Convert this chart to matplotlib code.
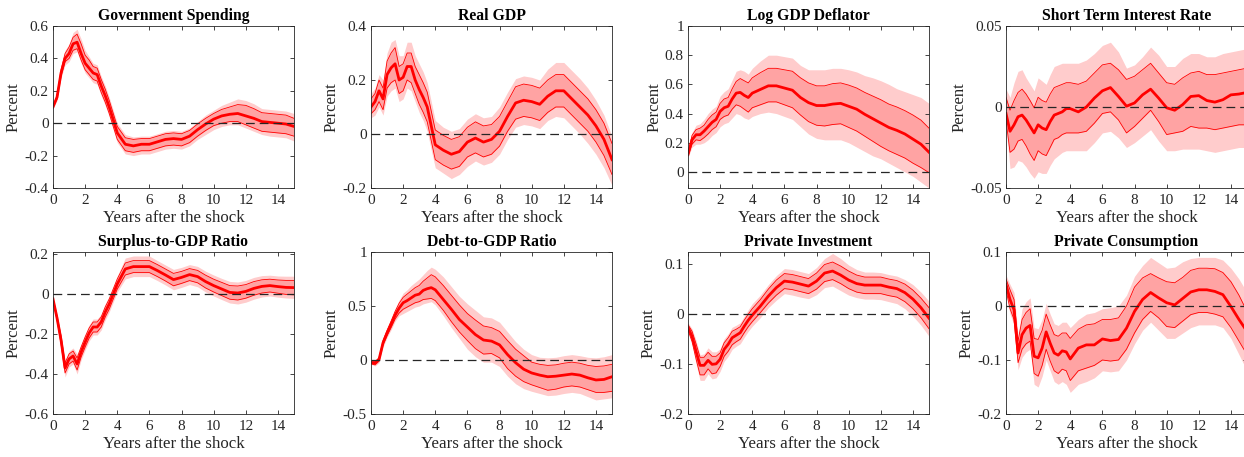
import matplotlib
matplotlib.use('Agg')
import matplotlib.pyplot as plt

plt.rcParams['font.family'] = ['Liberation Serif', 'DejaVu Serif']

# horizon (years): quarterly up to 4, then half-yearly
years = [0, .25, .5, .75, 1, 1.25, 1.5, 1.75, 2, 2.25, 2.5, 2.75, 3, 3.25, 3.5, 3.75, 4,
         4.5, 5, 5.5, 6, 6.5, 7, 7.5, 8, 8.5, 9, 9.5, 10, 10.5, 11, 11.5, 12, 12.5, 13,
         13.5, 14, 14.5, 15]

# Government Spending
gov_med = [0.10, 0.16, 0.31, 0.40, 0.43, 0.49, 0.50, 0.43, 0.37, 0.34, 0.31, 0.30, 0.23, 0.17, 0.10, 0.02, -0.06,
           -0.13, -0.14, -0.13, -0.13, -0.115, -0.10, -0.095, -0.10, -0.08, -0.04, -0.005, 0.025, 0.045, 0.055,
           0.06, 0.045, 0.03, 0.01, 0.005, 0.0, -0.005, -0.02]
gov_hi68 = [0.10, 0.17, 0.33, 0.43, 0.47, 0.53, 0.55, 0.49, 0.42, 0.39, 0.35, 0.34, 0.27, 0.21, 0.14, 0.06, -0.02,
            -0.09, -0.10, -0.095, -0.095, -0.08, -0.065, -0.06, -0.065, -0.045, -0.005, 0.03, 0.06, 0.085, 0.10,
            0.115, 0.11, 0.09, 0.065, 0.06, 0.055, 0.05, 0.03]
gov_lo68 = [0.10, 0.15, 0.29, 0.38, 0.40, 0.45, 0.46, 0.39, 0.33, 0.30, 0.27, 0.26, 0.19, 0.13, 0.06, -0.02, -0.10,
            -0.17, -0.18, -0.17, -0.17, -0.155, -0.14, -0.135, -0.14, -0.12, -0.08, -0.045, -0.015, 0.0, 0.01,
            0.01, -0.01, -0.03, -0.05, -0.055, -0.06, -0.065, -0.08]
gov_hi90 = [0.11, 0.18, 0.34, 0.45, 0.49, 0.56, 0.58, 0.52, 0.45, 0.41, 0.37, 0.36, 0.29, 0.23, 0.16, 0.08, 0.0,
            -0.07, -0.085, -0.08, -0.08, -0.065, -0.05, -0.045, -0.05, -0.03, 0.01, 0.05, 0.08, 0.11, 0.13,
            0.15, 0.14, 0.12, 0.09, 0.085, 0.08, 0.075, 0.06]
gov_lo90 = [0.09, 0.14, 0.28, 0.36, 0.38, 0.43, 0.44, 0.37, 0.31, 0.28, 0.25, 0.24, 0.17, 0.11, 0.04, -0.04, -0.12,
            -0.19, -0.20, -0.19, -0.19, -0.175, -0.16, -0.155, -0.16, -0.14, -0.10, -0.07, -0.04, -0.02, -0.01,
            -0.01, -0.03, -0.05, -0.07, -0.08, -0.085, -0.09, -0.11]

# Real GDP
gdp_med = [0.10, 0.12, 0.16, 0.13, 0.22, 0.245, 0.26, 0.20, 0.21, 0.25, 0.25, 0.20, 0.165, 0.135, 0.10, 0.03, -0.04,
           -0.06, -0.075, -0.065, -0.03, -0.015, -0.03, -0.02, 0.01, 0.065, 0.115, 0.125, 0.12, 0.11, 0.14,
           0.16, 0.16, 0.13, 0.10, 0.07, 0.03, -0.02, -0.095]
gdp_hi68 = [0.13, 0.15, 0.20, 0.17, 0.27, 0.30, 0.32, 0.25, 0.26, 0.30, 0.30, 0.25, 0.22, 0.19, 0.155, 0.085, 0.015,
            -0.005, -0.02, -0.01, 0.025, 0.045, 0.03, 0.035, 0.065, 0.12, 0.175, 0.185, 0.18, 0.17, 0.20,
            0.22, 0.22, 0.19, 0.16, 0.13, 0.09, 0.04, -0.035]
gdp_lo68 = [0.075, 0.09, 0.12, 0.09, 0.17, 0.19, 0.20, 0.15, 0.16, 0.20, 0.19, 0.15, 0.11, 0.08, 0.045, -0.025, -0.095,
            -0.115, -0.13, -0.12, -0.085, -0.07, -0.085, -0.075, -0.045, 0.01, 0.055, 0.065, 0.06, 0.05, 0.08,
            0.10, 0.10, 0.07, 0.04, 0.01, -0.03, -0.08, -0.15]
gdp_hi90 = [0.15, 0.17, 0.22, 0.20, 0.30, 0.34, 0.35, 0.29, 0.29, 0.34, 0.34, 0.29, 0.26, 0.23, 0.19, 0.12, 0.05,
            0.025, 0.01, 0.02, 0.055, 0.075, 0.06, 0.065, 0.10, 0.155, 0.205, 0.215, 0.21, 0.20, 0.24,
            0.265, 0.265, 0.235, 0.205, 0.17, 0.125, 0.07, -0.01]
gdp_lo90 = [0.06, 0.07, 0.10, 0.07, 0.14, 0.16, 0.17, 0.12, 0.13, 0.17, 0.16, 0.12, 0.08, 0.05, 0.01, -0.06, -0.125,
            -0.145, -0.165, -0.15, -0.12, -0.10, -0.115, -0.105, -0.075, -0.02, 0.025, 0.035, 0.03, 0.02, 0.05,
            0.065, 0.06, 0.03, 0.0, -0.035, -0.075, -0.125, -0.19]

# Log GDP Deflator
defl_med = [0.12, 0.22, 0.255, 0.255, 0.28, 0.31, 0.34, 0.36, 0.415, 0.44, 0.45, 0.50, 0.54, 0.545, 0.525, 0.51, 0.54,
            0.565, 0.59, 0.59, 0.575, 0.56, 0.51, 0.475, 0.455, 0.455, 0.465, 0.47, 0.45, 0.43, 0.395,
            0.365, 0.335, 0.305, 0.285, 0.26, 0.225, 0.19, 0.135]
defl_hi68 = [0.13, 0.25, 0.29, 0.30, 0.32, 0.36, 0.39, 0.41, 0.47, 0.50, 0.51, 0.57, 0.62, 0.64, 0.625, 0.61, 0.645,
             0.68, 0.71, 0.71, 0.70, 0.69, 0.645, 0.61, 0.59, 0.59, 0.605, 0.61, 0.595, 0.575, 0.545,
             0.52, 0.495, 0.465, 0.445, 0.42, 0.39, 0.355, 0.30]
defl_lo68 = [0.11, 0.19, 0.22, 0.215, 0.235, 0.26, 0.29, 0.31, 0.36, 0.38, 0.39, 0.43, 0.46, 0.45, 0.43, 0.41, 0.44,
             0.46, 0.48, 0.48, 0.46, 0.44, 0.39, 0.345, 0.32, 0.315, 0.325, 0.33, 0.305, 0.28, 0.245,
             0.21, 0.175, 0.145, 0.12, 0.095, 0.06, 0.03, -0.005]
defl_hi90 = [0.15, 0.27, 0.32, 0.33, 0.36, 0.40, 0.43, 0.45, 0.52, 0.55, 0.57, 0.63, 0.69, 0.70, 0.69, 0.67, 0.71,
             0.76, 0.80, 0.80, 0.79, 0.78, 0.73, 0.70, 0.70, 0.70, 0.71, 0.71, 0.70, 0.685, 0.66,
             0.645, 0.625, 0.60, 0.57, 0.55, 0.53, 0.51, 0.47]
defl_lo90 = [0.10, 0.17, 0.19, 0.19, 0.20, 0.22, 0.25, 0.27, 0.31, 0.33, 0.34, 0.37, 0.40, 0.39, 0.37, 0.36, 0.38,
             0.40, 0.41, 0.40, 0.38, 0.36, 0.31, 0.26, 0.23, 0.22, 0.22, 0.22, 0.20, 0.17, 0.14,
             0.11, 0.09, 0.06, 0.03, 0.0, -0.03, -0.07, -0.11]

# Short Term Interest Rate
rate_med = [-0.004, -0.015, -0.011, -0.006, -0.005, -0.008, -0.012, -0.016, -0.011, -0.013, -0.014, -0.009, -0.005,
            -0.004, -0.003, -0.001, -0.001, -0.003, 0.0, 0.0055, 0.010, 0.012, 0.0065, 0.0005, 0.0025, 0.0075,
            0.011, 0.0055, -0.0005, -0.002, 0.0015, 0.0065, 0.007, 0.004, 0.003, 0.0045, 0.0075, 0.008, 0.009]
rate_hi68 = [0.006, -0.002, 0.004, 0.009, 0.011, 0.008, 0.004, -0.0005, 0.006, 0.004, 0.003, 0.008, 0.012, 0.013,
             0.014, 0.015, 0.015, 0.014, 0.016, 0.021, 0.026, 0.027, 0.023, 0.017, 0.019, 0.023, 0.027, 0.021,
             0.015, 0.014, 0.018, 0.021, 0.022, 0.020, 0.020, 0.021, 0.022, 0.023, 0.024]
rate_lo68 = [-0.008, -0.028, -0.026, -0.021, -0.020, -0.024, -0.029, -0.033, -0.027, -0.029, -0.030, -0.025, -0.020,
             -0.019, -0.017, -0.016, -0.016, -0.016, -0.015, -0.010, -0.004, -0.003, -0.008, -0.016, -0.012,
             -0.007, -0.002, -0.009, -0.017, -0.016, -0.015, -0.012, -0.013, -0.013, -0.014, -0.013, -0.012,
             -0.011, -0.011]
rate_hi90 = [0.011, 0.006, 0.015, 0.022, 0.023, 0.018, 0.014, 0.010, 0.018, 0.016, 0.014, 0.020, 0.025, 0.026,
             0.027, 0.027, 0.027, 0.027, 0.029, 0.033, 0.038, 0.040, 0.034, 0.024, 0.026, 0.031, 0.037, 0.032,
             0.025, 0.025, 0.030, 0.033, 0.033, 0.031, 0.031, 0.033, 0.034, 0.035, 0.036]
rate_lo90 = [-0.012, -0.038, -0.037, -0.033, -0.034, -0.037, -0.041, -0.044, -0.040, -0.041, -0.041, -0.036, -0.032,
             -0.030, -0.028, -0.027, -0.027, -0.027, -0.027, -0.022, -0.016, -0.015, -0.019, -0.025, -0.022,
             -0.018, -0.014, -0.021, -0.027, -0.027, -0.026, -0.026, -0.026, -0.027, -0.028, -0.027, -0.026,
             -0.025, -0.025]

# Surplus-to-GDP Ratio
surp_med = [-0.025, -0.12, -0.23, -0.37, -0.325, -0.31, -0.35, -0.29, -0.24, -0.195, -0.165, -0.165, -0.14, -0.09,
            -0.05, 0.0, 0.05, 0.125, 0.137, 0.137, 0.137, 0.117, 0.095, 0.072, 0.083, 0.097, 0.087, 0.062, 0.042,
            0.025, 0.008, 0.005, 0.013, 0.028, 0.038, 0.042, 0.037, 0.033, 0.032]
surp_hi68 = [-0.02, -0.11, -0.21, -0.345, -0.30, -0.285, -0.32, -0.265, -0.215, -0.17, -0.14, -0.14, -0.115, -0.065,
             -0.025, 0.025, 0.075, 0.155, 0.167, 0.167, 0.167, 0.147, 0.125, 0.103, 0.113, 0.127, 0.118, 0.094,
             0.074, 0.058, 0.042, 0.04, 0.047, 0.062, 0.071, 0.074, 0.07, 0.068, 0.068]
surp_lo68 = [-0.03, -0.13, -0.25, -0.395, -0.35, -0.335, -0.38, -0.315, -0.265, -0.22, -0.19, -0.19, -0.165, -0.115,
             -0.075, -0.025, 0.025, 0.095, 0.107, 0.107, 0.107, 0.087, 0.065, 0.041, 0.053, 0.067, 0.056, 0.03,
             0.01, -0.008, -0.026, -0.03, -0.021, -0.006, 0.005, 0.01, 0.004, -0.002, -0.004]
surp_hi90 = [-0.015, -0.10, -0.20, -0.33, -0.285, -0.27, -0.30, -0.25, -0.20, -0.155, -0.125, -0.125, -0.10, -0.05,
             -0.01, 0.04, 0.09, 0.18, 0.19, 0.19, 0.19, 0.167, 0.145, 0.123, 0.133, 0.147, 0.138, 0.114, 0.095,
             0.078, 0.063, 0.06, 0.068, 0.083, 0.092, 0.094, 0.09, 0.089, 0.089]
surp_lo90 = [-0.035, -0.14, -0.26, -0.415, -0.365, -0.35, -0.40, -0.33, -0.28, -0.235, -0.205, -0.205, -0.18, -0.13,
             -0.09, -0.04, 0.01, 0.075, 0.087, 0.087, 0.087, 0.067, 0.045, 0.021, 0.033, 0.047, 0.036, 0.01,
             -0.01, -0.028, -0.045, -0.05, -0.041, -0.026, -0.015, -0.01, -0.016, -0.02, -0.022]

# Debt-to-GDP Ratio
debt_med = [-0.025, -0.03, 0.005, 0.16, 0.25, 0.33, 0.415, 0.48, 0.53, 0.55, 0.575, 0.60, 0.61, 0.645, 0.66, 0.67,
            0.65, 0.56, 0.47, 0.375, 0.305, 0.235, 0.185, 0.175, 0.14, 0.05, -0.025, -0.085, -0.12, -0.14, -0.155,
            -0.15, -0.14, -0.13, -0.14, -0.165, -0.185, -0.18, -0.155]
debt_hi68 = [-0.015, -0.015, 0.02, 0.18, 0.275, 0.36, 0.45, 0.525, 0.58, 0.61, 0.64, 0.67, 0.69, 0.73, 0.76, 0.79,
             0.77, 0.69, 0.60, 0.51, 0.43, 0.37, 0.315, 0.30, 0.265, 0.18, 0.10, 0.04, -0.02, -0.04, -0.05,
             -0.045, -0.03, -0.02, -0.03, -0.05, -0.06, -0.055, -0.04]
debt_lo68 = [-0.035, -0.045, -0.01, 0.14, 0.225, 0.30, 0.38, 0.435, 0.47, 0.49, 0.51, 0.53, 0.54, 0.56, 0.565, 0.57,
             0.55, 0.46, 0.355, 0.26, 0.18, 0.105, 0.055, 0.06, 0.02, -0.08, -0.15, -0.20, -0.23, -0.255, -0.28,
             -0.27, -0.25, -0.24, -0.25, -0.275, -0.30, -0.30, -0.29]
debt_hi90 = [-0.01, -0.005, 0.035, 0.20, 0.29, 0.38, 0.475, 0.555, 0.62, 0.65, 0.69, 0.72, 0.75, 0.79, 0.83, 0.86,
             0.84, 0.77, 0.68, 0.59, 0.52, 0.46, 0.40, 0.39, 0.35, 0.26, 0.17, 0.10, 0.05, 0.025, 0.02,
             0.025, 0.04, 0.05, 0.04, 0.025, 0.02, 0.03, 0.05]
debt_lo90 = [-0.04, -0.055, -0.025, 0.12, 0.21, 0.28, 0.36, 0.41, 0.43, 0.45, 0.47, 0.49, 0.50, 0.52, 0.53, 0.54,
             0.51, 0.41, 0.30, 0.20, 0.10, 0.03, -0.02, -0.02, -0.06, -0.15, -0.22, -0.265, -0.29, -0.31, -0.33,
             -0.325, -0.31, -0.30, -0.31, -0.34, -0.37, -0.36, -0.35]

# Private Investment
inv_med = [-0.028, -0.045, -0.075, -0.103, -0.103, -0.093, -0.101, -0.10, -0.091, -0.071, -0.061, -0.048, -0.043,
           -0.038, -0.025, -0.013, -0.003, 0.015, 0.035, 0.052, 0.065, 0.063, 0.059, 0.055, 0.065, 0.081, 0.085,
           0.077, 0.067, 0.06, 0.057, 0.057, 0.057, 0.053, 0.05, 0.042, 0.029, 0.012, -0.009]
inv_hi68 = [-0.022, -0.035, -0.06, -0.087, -0.087, -0.077, -0.085, -0.085, -0.078, -0.058, -0.048, -0.035, -0.031,
            -0.026, -0.013, -0.001, 0.01, 0.028, 0.049, 0.067, 0.08, 0.078, 0.074, 0.07, 0.081, 0.098, 0.103,
            0.095, 0.085, 0.077, 0.073, 0.073, 0.073, 0.069, 0.066, 0.059, 0.047, 0.031, 0.012]
inv_lo68 = [-0.033, -0.055, -0.09, -0.122, -0.122, -0.11, -0.12, -0.118, -0.105, -0.085, -0.075, -0.062, -0.056,
            -0.051, -0.038, -0.026, -0.016, 0.002, 0.021, 0.037, 0.05, 0.048, 0.044, 0.04, 0.049, 0.064, 0.068,
            0.06, 0.05, 0.043, 0.04, 0.04, 0.04, 0.036, 0.033, 0.024, 0.01, -0.008, -0.03]
inv_hi90 = [-0.018, -0.03, -0.053, -0.082, -0.08, -0.068, -0.076, -0.076, -0.07, -0.05, -0.04, -0.027, -0.023,
            -0.018, -0.005, 0.008, 0.02, 0.037, 0.058, 0.076, 0.09, 0.088, 0.084, 0.08, 0.092, 0.11, 0.12,
            0.11, 0.097, 0.088, 0.083, 0.083, 0.082, 0.078, 0.075, 0.068, 0.058, 0.043, 0.025]
inv_lo90 = [-0.037, -0.062, -0.1, -0.133, -0.133, -0.12, -0.13, -0.128, -0.115, -0.095, -0.085, -0.071, -0.065,
            -0.06, -0.047, -0.035, -0.025, -0.008, 0.012, 0.027, 0.04, 0.037, 0.033, 0.03, 0.038, 0.052, 0.055,
            0.046, 0.037, 0.032, 0.029, 0.029, 0.028, 0.024, 0.02, 0.01, -0.005, -0.023, -0.045]

# Private Consumption
cons_med = [0.04, 0.012, -0.007, -0.087, -0.053, -0.041, -0.036, -0.093, -0.096, -0.078, -0.048, -0.069, -0.087,
            -0.091, -0.083, -0.085, -0.098, -0.078, -0.072, -0.072, -0.061, -0.064, -0.062, -0.041, -0.01, 0.012,
            0.025, 0.015, 0.006, 0.002, 0.014, 0.026, 0.03, 0.03, 0.027, 0.021, -0.001, -0.025, -0.047]
cons_hi68 = [0.05, 0.03, 0.012, -0.065, -0.025, -0.012, -0.005, -0.06, -0.062, -0.045, -0.015, -0.035, -0.053,
             -0.056, -0.05, -0.05, -0.06, -0.043, -0.035, -0.033, -0.025, -0.025, -0.022, 0.0, 0.035, 0.052,
             0.06, 0.052, 0.045, 0.043, 0.053, 0.066, 0.07, 0.07, 0.069, 0.062, 0.045, 0.02, -0.01]
cons_lo68 = [0.03, -0.005, -0.025, -0.105, -0.08, -0.07, -0.065, -0.125, -0.13, -0.11, -0.08, -0.102, -0.12,
             -0.125, -0.117, -0.12, -0.138, -0.12, -0.115, -0.11, -0.10, -0.102, -0.10, -0.08, -0.05, -0.025,
             -0.01, -0.022, -0.038, -0.04, -0.028, -0.016, -0.012, -0.012, -0.015, -0.02, -0.04, -0.065, -0.09]
cons_hi90 = [0.057, 0.04, 0.025, -0.055, -0.005, 0.008, 0.015, -0.04, -0.042, -0.025, 0.005, -0.015, -0.033,
             -0.036, -0.03, -0.03, -0.04, -0.025, -0.015, -0.012, -0.005, -0.003, 0.0, 0.02, 0.055, 0.075,
             0.09, 0.08, 0.07, 0.072, 0.082, 0.088, 0.09, 0.09, 0.09, 0.085, 0.07, 0.05, 0.025]
cons_lo90 = [0.022, -0.015, -0.035, -0.118, -0.095, -0.085, -0.08, -0.145, -0.15, -0.13, -0.1, -0.12, -0.14,
             -0.145, -0.14, -0.145, -0.16, -0.145, -0.14, -0.133, -0.12, -0.122, -0.12, -0.1, -0.07, -0.045,
             -0.03, -0.045, -0.06, -0.06, -0.05, -0.04, -0.035, -0.035, -0.035, -0.04, -0.06, -0.09, -0.12]

titles = ['Government Spending', 'Real GDP', 'Log GDP Deflator', 'Short Term Interest Rate',
          'Surplus-to-GDP Ratio', 'Debt-to-GDP Ratio', 'Private Investment', 'Private Consumption']
y_limits = [(-0.4, 0.6), (-0.2, 0.4), (-0.11, 1.0), (-0.05, 0.05),
            (-0.6, 0.21), (-0.5, 1.0), (-0.2, 0.123), (-0.2, 0.1)]
y_ticks = [[-0.4, -0.2, 0, 0.2, 0.4, 0.6], [-0.2, 0, 0.2, 0.4], [0, 0.2, 0.4, 0.6, 0.8, 1],
           [-0.05, 0, 0.05], [-0.6, -0.4, -0.2, 0, 0.2], [-0.5, 0, 0.5, 1], [-0.2, -0.1, 0, 0.1],
           [-0.2, -0.1, 0, 0.1]]
y_ticklabels = [['-0.4', '-0.2', '0', '0.2', '0.4', '0.6'], ['-0.2', '0', '0.2', '0.4'],
                ['0', '0.2', '0.4', '0.6', '0.8', '1'], ['-0.05', '0', '0.05'],
                ['-0.6', '-0.4', '-0.2', '0', '0.2'], ['-0.5', '0', '0.5', '1'],
                ['-0.2', '-0.1', '0', '0.1'], ['-0.2', '-0.1', '0', '0.1']]

series = [(gov_med, gov_lo68, gov_hi68, gov_lo90, gov_hi90),
          (gdp_med, gdp_lo68, gdp_hi68, gdp_lo90, gdp_hi90),
          (defl_med, defl_lo68, defl_hi68, defl_lo90, defl_hi90),
          (rate_med, rate_lo68, rate_hi68, rate_lo90, rate_hi90),
          (surp_med, surp_lo68, surp_hi68, surp_lo90, surp_hi90),
          (debt_med, debt_lo68, debt_hi68, debt_lo90, debt_hi90),
          (inv_med, inv_lo68, inv_hi68, inv_lo90, inv_hi90),
          (cons_med, cons_lo68, cons_hi68, cons_lo90, cons_hi90)]

fig = plt.figure(figsize=(12.44, 4.57), dpi=100)
lefts = [53, 371, 688, 1006]
bottoms = [188, 414]
W, H = 1244.0, 457.0

for i in range(8):
    row, col = divmod(i, 4)
    ax = fig.add_axes([lefts[col] / W, 1 - bottoms[row] / H, 241 / W, 162 / H])
    med, lo68, hi68, lo90, hi90 = series[i]
    ax.fill_between(years, lo90, hi90, color='#ffcccc', linewidth=0)
    ax.fill_between(years, lo68, hi68, color='#ffa3a3', linewidth=0)
    ax.plot(years, hi68, color='red', lw=0.6)
    ax.plot(years, lo68, color='red', lw=0.6)
    ax.plot(years, med, color='red', lw=2.0)
    ax.axhline(0, color='#262626', lw=0.9, dashes=(7, 4))
    ax.set_xlim(0, 15)
    ax.set_ylim(*y_limits[i])
    ax.set_xticks(range(0, 15, 2))
    ax.set_yticks(y_ticks[i])
    ax.set_yticklabels(y_ticklabels[i])
    ax.tick_params(direction='in', top=True, right=True, length=3, width=0.6,
                   labelsize=11, colors='#262626')
    ax.tick_params(axis='x', pad=4.5)
    ax.tick_params(axis='y', pad=3)
    for s in ax.spines.values():
        s.set_linewidth(0.6)
        s.set_color('#262626')
    ax.set_title(titles[i], fontsize=11.3, fontweight='bold', pad=4)
    ax.set_xlabel('Years after the shock', fontsize=12.2, color='#262626', labelpad=2)
    ax.set_ylabel('Percent', fontsize=12, color='#262626', labelpad=2)

fig.savefig('out.png', dpi=100)
